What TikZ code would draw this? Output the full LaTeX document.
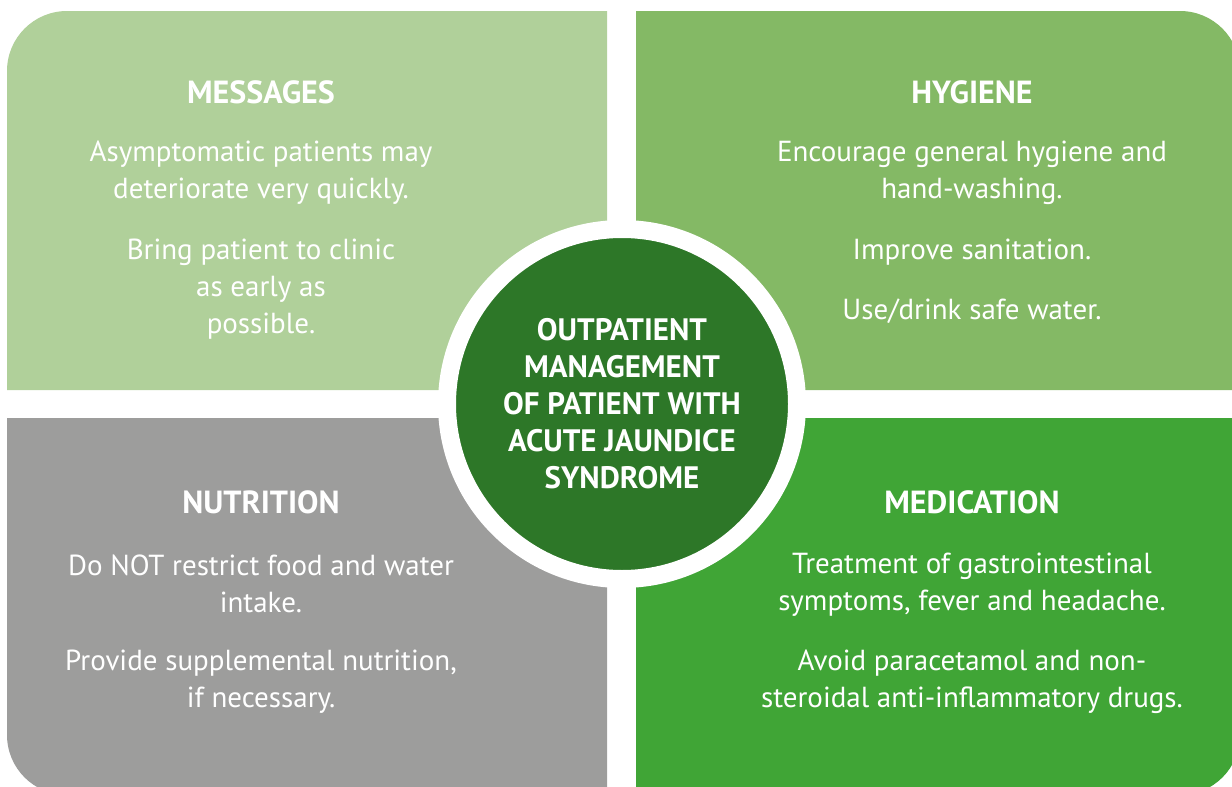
\documentclass[tikz,border=0pt]{standalone}
\usepackage{fontspec}
\setmainfont{PT Sans}
\usepackage{xcolor}

\definecolor{msggreen}{RGB}{176,208,154}
\definecolor{hyggreen}{RGB}{132,185,101}
\definecolor{nutgray}{RGB}{157,157,156}
\definecolor{medgreen}{RGB}{64,165,54}
\definecolor{hubgreen}{RGB}{45,119,40}

\tikzset{
  heading/.style={text=white, font=\fontsize{16}{19}\selectfont\bfseries},
  bodytext/.style={text=white, align=center, font=\fontsize{14.5}{18.5}\selectfont},
}

\begin{document}
\begin{tikzpicture}[x=0.5pt, y=-0.5pt]
      \useasboundingbox (0,0) rectangle (1232,787);

      % the four panels, each rounded on its outer corner
      \fill[msggreen] (7,390) [rounded corners=30pt] -- (7,11) [sharp corners] -- (607,11) -- (607,390) -- cycle;
      \fill[hyggreen] (636,11) [rounded corners=30pt] -- (1240,11) [sharp corners] -- (1240,390) -- (636,390) -- cycle;
      \fill[nutgray] (607,418) -- (7,418) [rounded corners=30pt] -- (7,795) [sharp corners] -- (607,795) -- cycle;
      \fill[medgreen] (636,418) -- (1240,418) [rounded corners=30pt] -- (1240,795) [sharp corners] -- (636,795) -- cycle;

      \node[circle, fill=hubgreen, draw=white, line width=9pt, minimum size=175pt, inner sep=0pt,
            text=white, align=center, font=\fontsize{15.5}{18.5}\selectfont\bfseries] (hub) at (622,404)
        {OUTPATIENT\\MANAGEMENT\\OF PATIENT WITH\\ACUTE JAUNDICE\\SYNDROME};

      \node[heading] (msgtitle) at (261,92) {MESSAGES};
      \node[bodytext] (msgA) at (261,173) {Asymptomatic patients may\\deteriorate very quickly.};
      \node[bodytext] (msgB) at (261,289) {Bring patient to clinic\\as early as\\possible.};

      \node[heading] (hygtitle) at (972,92) {HYGIENE};
      \node[bodytext] (hygA) at (972,173) {Encourage general hygiene and\\hand-washing.};
      \node[bodytext] (hygB) at (972,252) {Improve sanitation.};
      \node[bodytext] (hygC) at (972,311) {Use/drink safe water.};

      \node[heading] (nuttitle) at (261,502) {NUTRITION};
      \node[bodytext] (nutA) at (261,584) {Do NOT restrict food and water\\intake.};
      \node[bodytext] (nutB) at (261,682) {Provide supplemental nutrition,\\if necessary.};

      \node[heading] (medtitle) at (972,502) {MEDICATION};
      \node[bodytext] (medA) at (972,585) {Treatment of gastrointestinal\\symptoms, fever and headache.};
      \node[bodytext] (medB) at (972,682) {Avoid paracetamol and non-\\steroidal anti-inflammatory drugs.};
    \end{tikzpicture}
\end{document}
